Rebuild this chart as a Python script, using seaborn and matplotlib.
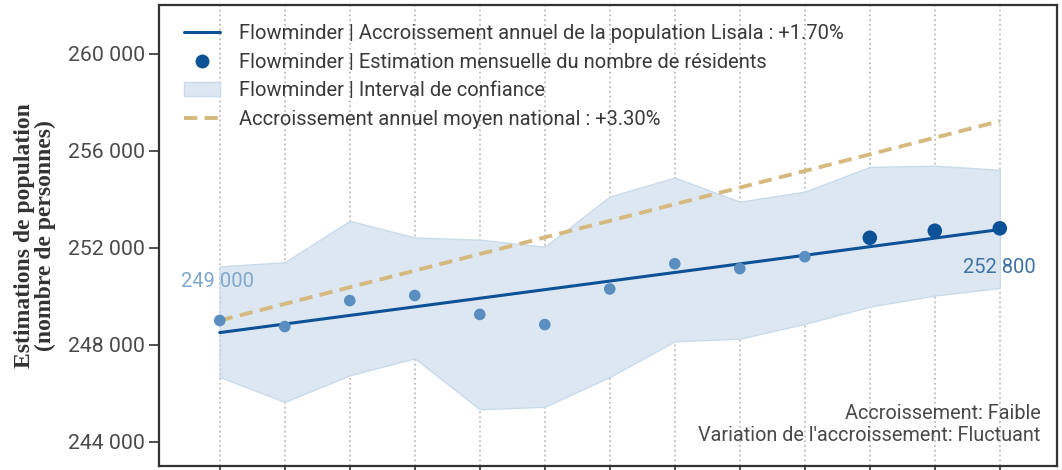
import numpy as np
import pandas as pd
import seaborn as sns
import matplotlib.pyplot as plt
from matplotlib.patches import Patch
from matplotlib.lines import Line2D

# données
mois = list(range(13))
estimation = [249000, 248750, 249820, 250030, 249250, 248830, 250300,
              251340, 251140, 251630, 252410, 252700, 252800]
ic_haut = [251230, 251400, 253110, 252420, 252330, 252040, 254110,
           254890, 253900, 254310, 255330, 255380, 255210]
ic_bas = [246670, 245640, 246740, 247440, 245340, 245440, 246670,
          248140, 248250, 248860, 249570, 250030, 250340]
tendance_lisala = [248500, 252750]
tendance_nationale = [249000, 257220]
y_ticks = [244000, 248000, 252000, 256000, 260000]

df = pd.DataFrame({"mois": mois, "estimation": estimation,
                   "haut": ic_haut, "bas": ic_bas})
df["recent"] = df["mois"] >= 10
df_tl = pd.DataFrame({"mois": [mois[0], mois[-1]], "val": tendance_lisala})
df_tn = pd.DataFrame({"mois": [mois[0], mois[-1]], "val": tendance_nationale})

sns.set_style("white")
plt.rcParams["font.family"] = ["Roboto", "DejaVu Sans"]

fig = plt.figure(figsize=(10.62, 4.70), dpi=100)
ax = fig.add_axes([0.150, 0.0085, 0.8453, 0.9805])

bleu = "#0d5296"
tirets = (0, (3.4, 1.9))
ax.fill_between(df["mois"], df["bas"], df["haut"], color="#dde7f1",
                edgecolor="#c9dbeb", linewidth=1, zorder=1)
sns.lineplot(data=df_tn, x="mois", y="val", color="#d6b97f", lw=2.8,
             linestyle=tirets, ax=ax, zorder=2)
sns.lineplot(data=df_tl, x="mois", y="val", color=bleu, lw=2.2, ax=ax, zorder=3)
sns.scatterplot(data=df[~df["recent"]], x="mois", y="estimation", color="#5a8ec0",
                s=70, edgecolor="none", ax=ax, zorder=4)
sns.scatterplot(data=df[df["recent"]], x="mois", y="estimation", color=bleu,
                s=110, edgecolor="none", ax=ax, zorder=4)

ax.text(mois[0] - 0.6, estimation[0] + 1600, "249 000", color="#80a8cd",
        fontsize=14.5, va="center", ha="left")
ax.text(mois[-1], estimation[-1] - 1600, "252 800", color="#3d72a5",
        fontsize=14.5, va="center", ha="center")

ax.set_xlim(-0.93, 12.88)
ax.set_ylim(243000, 262000)
ax.set_xticks(mois)
ax.set_xticklabels([])
ax.set_yticks(y_ticks)
ax.set_yticklabels([f"{v:,}".replace(",", " ") for v in y_ticks])
ax.tick_params(axis="both", length=7, width=1.2, color="#333333",
               labelsize=15.3, labelcolor="#4a4a4a", direction="out",
               bottom=True, left=True)
ax.grid(axis="x", linestyle=":", color="#bdbdbd", lw=1.3)
ax.grid(axis="y", visible=False)
for s in ax.spines.values():
    s.set_color("#333333")
    s.set_linewidth(1.6)

ax.set_xlabel("")
ax.set_ylabel("Estimations de population\n(nombre de personnes)",
              family="Liberation Serif", fontweight="bold", fontsize=17,
              color="#333333", labelpad=8, linespacing=1.0)

ax.text(0.982, 0.045, "Accroissement: Faible\nVariation de l'accroissement: Fluctuant",
        transform=ax.transAxes, ha="right", va="bottom", fontsize=14.3,
        color="#4a4a4a", linespacing=1.2)

handles = [
    Line2D([], [], color=bleu, lw=2.2),
    Line2D([], [], marker="o", color=bleu, linestyle="none", markersize=9),
    Patch(facecolor="#dde7f1", edgecolor="#c9dbeb"),
    Line2D([], [], color="#d6b97f", lw=2.8, linestyle=tirets),
]
labels = [
    "Flowminder | Accroissement annuel de la population Lisala : +1.70%",
    "Flowminder | Estimation mensuelle du nombre de résidents",
    "Flowminder | Interval de confiance",
    "Accroissement annuel moyen national : +3.30%",
]
leg = ax.legend(handles, labels, loc="upper left", frameon=False, fontsize=14.5,
                labelspacing=0.47, handlelength=1.8, handletextpad=0.95,
                borderaxespad=0.55, bbox_to_anchor=(0.006, 1.0))
for t in leg.get_texts():
    t.set_color("#3a3a3a")

fig.savefig("out.png", dpi=100)
